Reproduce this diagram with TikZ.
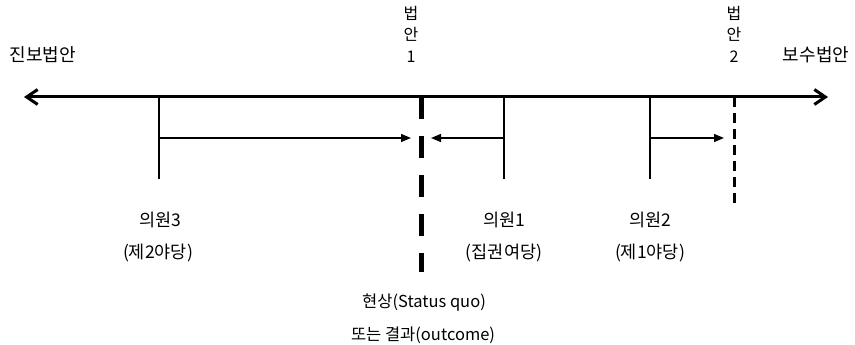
\documentclass[tikz,border=0pt]{standalone}
\usepackage{fontspec}
\newfontfamily\kr{Noto Sans CJK KR}
\usetikzlibrary{arrows.meta}
\begin{document}
\begin{tikzpicture}[x=1pt,y=-1pt,
  endlbl/.style={font=\kr\fontsize{18}{20}\selectfont, inner sep=0pt},
  voter/.style={font=\kr\fontsize{17.5}{20}\selectfont, inner sep=0pt},
  sqlbl/.style={font=\kr\fontsize{16.5}{20}\selectfont, inner sep=0pt},
  stack/.style={font=\kr\fontsize{16}{21.5}\selectfont, inner sep=0pt, align=center},
  axis/.style={line width=3pt,
    {Straight Barb[length=11pt,width=15pt]}-{Straight Barb[length=11pt,width=15pt]}},
  tick/.style={line width=1.3pt},
  move/.style={line width=1.3pt, -{Triangle[length=10pt,width=8pt]}},
  sqline/.style={line width=5pt, dash pattern=on 22pt off 17pt},
  billline/.style={line width=3pt, dash pattern=on 10pt off 6pt}]
\useasboundingbox (0,0) rectangle (855,345);

% policy axis
\coordinate (L) at (24,97);
\coordinate (R) at (828,97);
\draw[axis] (L) -- (R);
\node[endlbl] (prog) at (43,55) {진보법안};
\node[endlbl] (cons) at (816,55) {보수법안};

% bills
\node[stack] (bill1) at (411,34) {법\\안\\1};
\node[stack] (bill2) at (734,34) {법\\안\\2};

% status quo / outcome
\coordinate (sqT) at (421,97);
\coordinate (sqB) at (421,272);
\draw[sqline] (sqT) -- (sqB);
\node[sqlbl] (sq1) at (424,303) {현상(Status quo)};
\node[sqlbl] (sq2) at (423,335) {또는 결과(outcome)};

% bill 2 position
\coordinate (b2T) at (734,97);
\coordinate (b2B) at (734,205);
\draw[billline] (b2T) -- (b2B);

% legislators' ideal points
\coordinate (m3T) at (159,97);  \coordinate (m3B) at (159,179);
\coordinate (m1T) at (504,97);  \coordinate (m1B) at (504,179);
\coordinate (m2T) at (650,97);  \coordinate (m2B) at (650,179);
\draw[tick] (m3T) -- (m3B);
\draw[tick] (m1T) -- (m1B);
\draw[tick] (m2T) -- (m2B);

% movements toward the outcome
\coordinate (m3s) at (159,138); \coordinate (m3e) at (411,138);
\coordinate (m1s) at (504,138); \coordinate (m1e) at (431,138);
\coordinate (m2s) at (650,138); \coordinate (m2e) at (724,138);
\draw[move] (m3s) -- (m3e);
\draw[move] (m1s) -- (m1e);
\draw[move] (m2s) -- (m2e);

\node[voter] (n3) at (160,220) {의원3};
\node[voter] (p3) at (158,253) {(제2야당)};
\node[voter] (n1) at (504,220) {의원1};
\node[voter] (p1) at (504,253) {(집권여당)};
\node[voter] (n2) at (650,220) {의원2};
\node[voter] (p2) at (650,253) {(제1야당)};
\end{tikzpicture}
\end{document}
